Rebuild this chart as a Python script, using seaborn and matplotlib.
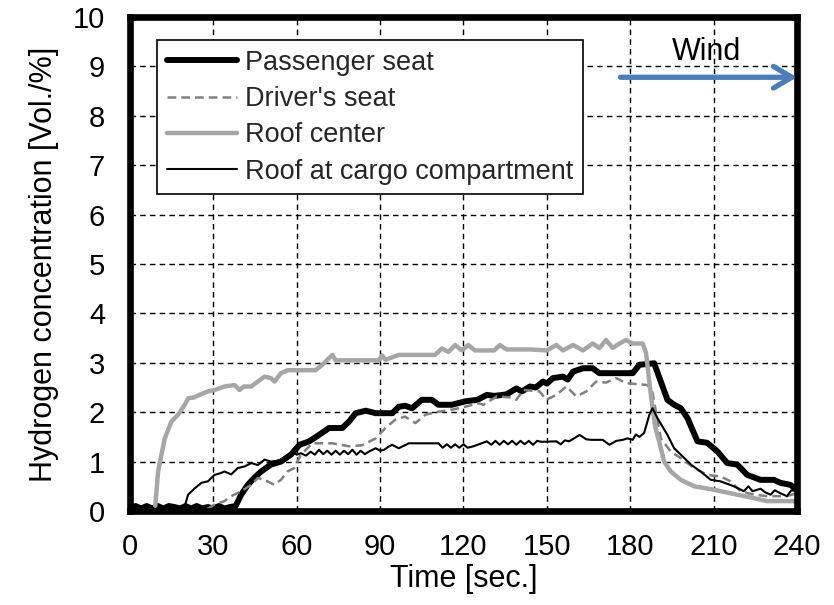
import matplotlib
matplotlib.use("Agg")
import matplotlib.pyplot as plt
import seaborn as sns
import pandas as pd

# ---- data (time [s], concentration [vol.%]) ----
passenger_seat = [
    (0, 0.05), (2, 0.1), (4, 0.05), (6, 0.1), (8, 0.05), (10, 0.1), (12, 0.05), (14, 0.1),
    (16, 0.08), (18, 0.05), (20, 0.1), (22, 0.05), (24, 0.1), (26, 0.05), (28, 0.08),
    (30, 0.05), (32, 0.1), (34, 0.05), (36, 0.08), (38, 0.1), (40, 0.33), (42.4, 0.53),
    (44.7, 0.67), (47.2, 0.8), (50.7, 0.94), (54.3, 1.0), (57.9, 1.14), (61, 1.34),
    (64.5, 1.41), (68, 1.54), (71.6, 1.68), (76.4, 1.68), (78.8, 1.81), (81.2, 1.98),
    (84.8, 2.03), (88.4, 1.98), (94.4, 1.98), (96.7, 2.11), (99, 2.13), (101.5, 2.08),
    (105, 2.25), (108.6, 2.25), (111, 2.15), (115.8, 2.15), (120.6, 2.22), (125, 2.25),
    (128.4, 2.35), (131, 2.33), (135.5, 2.36), (139, 2.48), (141, 2.42), (143.9, 2.52),
    (146, 2.5), (148.6, 2.62), (150, 2.58), (152.2, 2.69), (155.8, 2.72), (157.5, 2.66),
    (159.4, 2.82), (163, 2.89), (166.5, 2.89), (168.9, 2.79), (180.9, 2.79), (183.3, 2.96),
    (188.6, 2.99), (191, 2.62), (193.4, 2.25), (195.8, 2.15), (198.2, 2.08), (200.6, 1.88),
    (204.2, 1.41), (207.7, 1.38), (211.3, 1.21), (214.9, 0.97), (218.5, 0.94), (222.1, 0.73),
    (226.9, 0.63), (231.7, 0.63), (234, 0.57), (237.6, 0.53), (240, 0.43),
]

drivers_seat = [
    (0, 0.05), (2, 0.0), (4, 0.05), (6, 0.0), (8, 0.05), (10, 0.0), (12, 0.03), (14, 0.0),
    (16, 0.05), (18, 0.0), (20, 0.03), (22, 0.0), (24, 0.03), (26, 0.0), (27.5, 0.03),
    (30.4, 0.13), (34, 0.2), (36.4, 0.3), (40, 0.4), (43.6, 0.53), (46, 0.67), (49.5, 0.6),
    (51.9, 0.53), (54.3, 0.63), (56.7, 0.8), (59.1, 0.87), (61.5, 1.14), (65.6, 1.37),
    (72.8, 1.37), (78.8, 1.31), (83.5, 1.33), (88.4, 1.47), (91.9, 1.68), (95.5, 1.85),
    (99, 1.91), (102.7, 1.78), (106.3, 1.95), (111, 2.01), (115.8, 2.05), (120.6, 2.11),
    (125.4, 2.18), (127.2, 2.15), (132, 2.32), (136.7, 2.3), (139, 2.25), (141.5, 2.45),
    (147.4, 2.42), (149.8, 2.25), (153.4, 2.35), (157, 2.52), (160.6, 2.32), (164.2, 2.42),
    (167.7, 2.62), (171.3, 2.6), (174.9, 2.69), (178.5, 2.59), (182.1, 2.57), (186.2, 2.55),
    (188, 2.4), (191, 1.47), (194.6, 1.2), (198.2, 1.07), (203, 0.87), (207.7, 0.73),
    (212.5, 0.7), (216.1, 0.6), (219.7, 0.4), (224.5, 0.33), (229.2, 0.3), (236.4, 0.3),
    (240, 0.36),
]

roof_center = [
    (0, 0.03), (2, 0.0), (4, 0.03), (6, 0.0), (8, 0.03), (9, 0.05), (10.1, 0.8), (12.5, 1.47),
    (14.9, 1.81), (17.3, 1.95), (19.7, 2.15), (20.9, 2.28), (23, 2.3), (25, 2.35), (28, 2.42),
    (30.5, 2.45), (34, 2.52), (37.6, 2.55), (39.4, 2.45), (41, 2.52), (43.6, 2.52), (46, 2.62),
    (48.4, 2.72), (50.7, 2.69), (52, 2.62), (54.3, 2.79), (56.7, 2.85), (62.7, 2.85),
    (66.8, 2.85), (69.2, 2.96), (72.8, 3.16), (74, 3.05), (89.5, 3.05), (90.7, 3.15),
    (91.9, 3.06), (96.7, 3.16), (109.8, 3.16), (112.2, 3.29), (114.6, 3.22), (117, 3.36),
    (119.4, 3.25), (121.7, 3.36), (124.1, 3.25), (131, 3.25), (133.1, 3.36), (135.5, 3.27),
    (143.9, 3.27), (150, 3.25), (153.4, 3.36), (155.8, 3.25), (159.4, 3.36), (163, 3.25),
    (166.5, 3.39), (168.9, 3.3), (171.3, 3.46), (173.7, 3.3), (176.1, 3.39), (178.5, 3.46),
    (180.9, 3.39), (184.5, 3.39), (185.7, 3.2), (186.9, 2.6), (188, 2.1), (189, 1.7),
    (190.4, 1.41), (192.2, 1.0), (194.6, 0.8), (198.2, 0.63), (203, 0.5), (210.1, 0.43),
    (218.5, 0.33), (224.5, 0.26), (229.2, 0.2), (238.8, 0.2), (240, 0.18),
]

roof_cargo = [
    (0, 0.05), (1.5, 0.1), (3, 0.03), (4.5, 0.08), (6, 0.05), (7.5, 0.1), (9, 0.03),
    (10.5, 0.08), (12, 0.05), (13.5, 0.1), (15, 0.03), (16.5, 0.08), (18, 0.05), (19.7, 0.1),
    (20.9, 0.33), (23.3, 0.46), (25.7, 0.57), (28, 0.6), (30.4, 0.73), (32.8, 0.77), (34, 0.8),
    (36.4, 0.74), (38.8, 0.87), (41.2, 0.9), (43.6, 0.97), (46, 0.93), (48.4, 1.04),
    (50.7, 1.0), (53.7, 1.02), (56, 1.1), (58.5, 1.2), (60, 1.14), (61.5, 1.17), (63.3, 1.12),
    (65, 1.2), (66.5, 1.14), (68, 1.24), (69.5, 1.15), (71, 1.22), (72.5, 1.14), (74, 1.22),
    (75.5, 1.14), (77, 1.22), (78.5, 1.15), (80, 1.24), (81.5, 1.14), (83, 1.22), (84.5, 1.15),
    (85.9, 1.2), (88.4, 1.27), (90, 1.22), (91.5, 1.24), (93, 1.3), (94.3, 1.34), (96.7, 1.27),
    (100.3, 1.37), (111, 1.37), (112.5, 1.28), (114, 1.35), (115.5, 1.28), (117, 1.35),
    (118.5, 1.28), (120, 1.35), (121.5, 1.28), (123.6, 1.31), (128.4, 1.41), (130, 1.34),
    (131.5, 1.42), (133, 1.34), (134.5, 1.42), (136, 1.35), (137.5, 1.42), (139, 1.34),
    (140.5, 1.42), (142, 1.35), (143.5, 1.42), (145, 1.34), (146.5, 1.42), (148, 1.4),
    (153.4, 1.41), (155, 1.35), (156.5, 1.43), (158, 1.41), (161.8, 1.54), (164.2, 1.45),
    (166, 1.44), (167.5, 1.44), (170.1, 1.44), (172.5, 1.34), (175, 1.42), (177.3, 1.44),
    (179, 1.47), (180.9, 1.44), (182, 1.55), (183.3, 1.5), (185, 1.58), (186.9, 1.95),
    (188, 2.08), (189.8, 1.88), (193.4, 1.54), (195.8, 1.27), (198.2, 1.14), (201.8, 0.94),
    (205.3, 0.8), (209, 0.63), (212.5, 0.6), (217.3, 0.5), (220.9, 0.4), (222.5, 0.5),
    (224, 0.4), (226.9, 0.45), (228.5, 0.38), (230.5, 0.33), (232, 0.42), (234, 0.36),
    (236.4, 0.3), (238, 0.42), (240, 0.4),
]

series_labels = ["Passenger seat", "Driver's seat", "Roof center", "Roof at cargo compartment"]
x_ticks = [0, 30, 60, 90, 120, 150, 180, 210, 240]
y_ticks = [0, 1, 2, 3, 4, 5, 6, 7, 8, 9, 10]

# ---- styling ----
sns.set_theme(style="white")
plt.rcParams["font.family"] = ["Liberation Sans", "DejaVu Sans"]

fig = plt.figure(figsize=(8.34, 6.05), dpi=100)
ax = fig.add_axes([0.1559, 0.1554, 0.7997, 0.8165])

series = [passenger_seat, drivers_seat, roof_center, roof_cargo]
styles = [
    dict(color="black", lw=4.3, ls="-"),
    dict(color="#808080", lw=1.8, ls=(0, (3.5, 2))),
    dict(color="#a6a6a6", lw=3.2, ls="-"),
    dict(color="black", lw=1.5, ls="-"),
]
for data, label, st in zip(series, series_labels, styles):
    df = pd.DataFrame(data, columns=["t", "c"])
    sns.lineplot(data=df, x="t", y="c", ax=ax, estimator=None, sort=False,
                 color=st["color"], linewidth=st["lw"], linestyle=st["ls"], label=label)

ax.set_xlim(0, 240)
ax.set_ylim(0, 10)
ax.set_xticks(x_ticks)
ax.set_yticks(y_ticks)
ax.grid(True, color="black", linestyle=(0, (4, 3)), linewidth=1.0)
ax.set_axisbelow(True)
for sp in ax.spines.values():
    sp.set_visible(True)
    sp.set_color("black")
    sp.set_linewidth(4.8)
ax.tick_params(axis="both", length=0, labelsize=21, colors="black")
ax.tick_params(axis="x", pad=16)
ax.tick_params(axis="y", pad=18)
ax.set_xlabel("Time [sec.]", fontsize=22, color="black", labelpad=2)
ax.set_ylabel("Hydrogen concentration [Vol./%]", fontsize=22, color="black", labelpad=10)

leg = ax.legend(loc="upper left", bbox_to_anchor=(0.0405, 0.953), borderaxespad=0,
                fontsize=19.5, frameon=True, fancybox=False, edgecolor="black",
                framealpha=1, handlelength=2.6, handletextpad=0.3, labelspacing=0.38,
                borderpad=0.35)
leg.get_frame().set_linewidth(1.2)

# Wind arrow
ax.annotate("", xy=(240, 8.78), xytext=(176.5, 8.78),
            arrowprops=dict(arrowstyle="->,head_length=1.1,head_width=0.65",
                            color="#4a7ebb", lw=3.8, shrinkA=0, shrinkB=0))
ax.text(207.5, 9.3, "Wind", fontsize=22, ha="center", va="center", color="black")

fig.savefig("out.png", dpi=100)
